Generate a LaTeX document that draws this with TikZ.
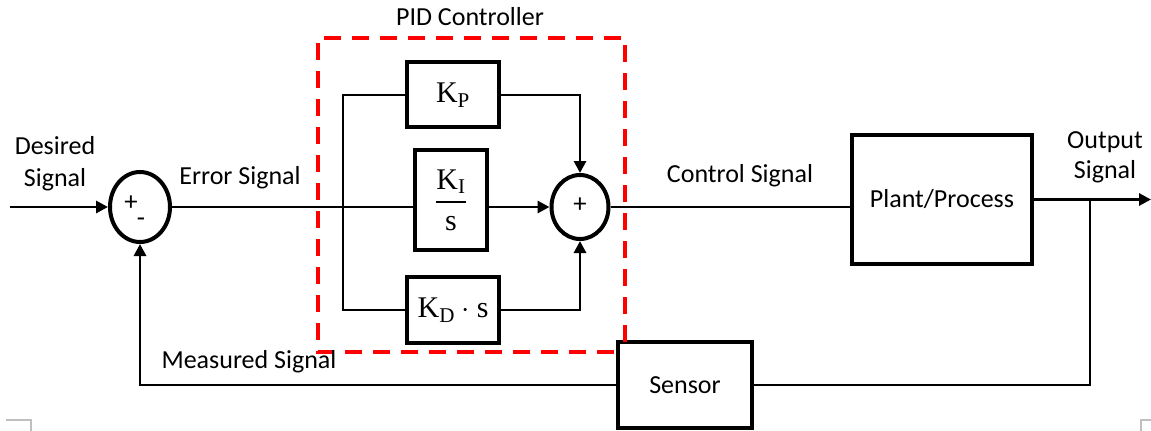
\documentclass[tikz,border=0pt]{standalone}
\usepackage{fix-cm}
\usepackage{amsmath}
\usepackage{fontspec}
\setmainfont{Carlito}
\setmathrm{Liberation Serif}
\usetikzlibrary{arrows.meta,shapes.geometric}

\begin{document}
\begin{tikzpicture}[x=0.75pt,y=-0.75pt,
	every node/.style={font=\fontsize{19.5}{24}\selectfont},
	blk/.style={draw,line width=3pt,fill=white,inner sep=0pt},
	sumj/.style={draw,ellipse,line width=3pt,inner sep=0pt},
	sgn/.style={font=\fontsize{20}{20}\selectfont,inner sep=0pt},
	kfont/.style={font=\fontsize{22.5}{26}\selectfont},
	sig/.style={line width=2.2pt},
	arr/.style={sig,-{Triangle[length=9pt,width=9pt]}},
	pidframe/.style={red,line width=3pt,dash pattern=on 13pt off 8pt}]
	\useasboundingbox (0,0) rectangle (1151,431);
	% summing junctions
	\node[sumj,minimum width=45pt,minimum height=52.5pt] (sum1) at (140,207) {};
	\node[sgn] (plus1) at (131,203) {+};
	\node[sgn] (minus1) at (141,222) {-};
	\node[sumj,minimum width=42.75pt,minimum height=48pt] (sum2) at (580,207) {};
	\node[sgn] (plus2) at (580,205) {+};
	% gains
	\node[blk,kfont,minimum width=69pt,minimum height=48.75pt] (kp) at (453,95) {$\mathrm{K}_{\mathrm{P}}$};
	\node[blk,kfont,minimum width=54pt,minimum height=75pt] (ki) at (451,200) {$\dfrac{\mathrm{K}_{\mathrm{I}}}{\mathrm{s}}$};
	\node[blk,kfont,minimum width=69pt,minimum height=50pt] (kd) at (453,310) {$\mathrm{K}_{\mathrm{D}}\cdot\mathrm{s}$};
	% plant and sensor
	\node[blk,minimum width=135pt,minimum height=96.75pt] (plant) at (942,199.5) {Plant/Process};
	\node[blk,minimum width=100.5pt,minimum height=64.5pt] (sensor) at (685,385) {Sensor};
	\coordinate (in) at (10,207);
	\coordinate (split) at (343,207);
	\coordinate (out) at (1151,199.5);
	\coordinate (tap) at (1090,199.5);
	% connectors
	\draw[arr] (in) -- (sum1);
	\draw[sig] (sum1) -- (sum1 -| ki.west);
	\draw[sig] (split) |- (kp.west);
	\draw[sig] (split) |- (kd.west);
	\draw[arr] (kp.east) -| (sum2.north);
	\draw[arr] (ki.east |- sum2) -- (sum2.west);
	\draw[arr] (kd.east) -| (sum2.south);
	\draw[sig] (sum2) -- (sum2 -| plant.west);
	\draw[arr] (plant) -- (out);
	\draw[sig] (tap) |- (sensor.east);
	\draw[arr] (sensor.west) -| (sum1.south);
	% PID frame, hidden behind the sensor
	\draw[pidframe] (625,342) |- (318,38) |- (618,352);
	% labels
	\node (pidlbl) at (470,17) {PID Controller};
	\node[align=center] (desired) at (55,164) {Desired\\Signal};
	\node (errlbl) at (240,178) {Error Signal};
	\node (ctrllbl) at (740,176) {Control Signal};
	\node[align=center,font=\fontsize{19.5}{22.5}\selectfont] (outlbl) at (1105,157) {Output\\Signal};
	\node (measlbl) at (249,362) {Measured Signal};
	% page corner marks
	\draw[gray!50,line width=1pt] (6,420) -- (31,420) -- (31,431);
	\draw[gray!50,line width=1pt] (1141,431) -- (1141,420) -- (1151,420);
\end{tikzpicture}
\end{document}
